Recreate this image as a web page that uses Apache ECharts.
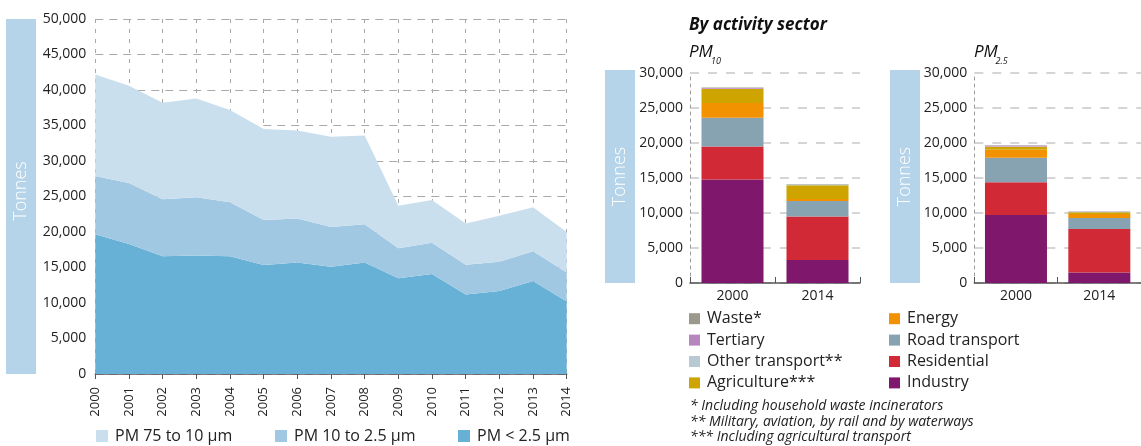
<!DOCTYPE html>
<html><head><meta charset="utf-8">
<script src="https://cdn.jsdelivr.net/npm/echarts@6/dist/echarts.min.js"></script>
<style>html,body{margin:0;padding:0;background:#fff}#c{width:1141px;height:446px}</style>
</head><body><div id="c"></div><script>
// ---- Left chart: PM emissions by size (tonnes) ----
const years = ['2000','2001','2002','2003','2004','2005','2006','2007','2008','2009','2010','2011','2012','2013','2014'];
const pmBelow25 = [19700,18300,16600,16700,16600,15350,15700,15100,15700,13500,14100,11200,11700,13100,10200];
const pm10to25  = [8200,8600,8000,8200,7600,6350,6200,5600,5400,4200,4400,4200,4100,4200,4100];
const pm75to10  = [14300,13700,13600,13900,13000,12800,12400,12700,12500,6000,6000,5800,6500,6200,5700];
const sizeNames = ['PM 75 to 10 µm','PM 10 to 2.5 µm','PM < 2.5 µm'];

// ---- Right charts: by activity sector ----
const barYears = ['2000','2014'];
const sectorNames = ['Industry','Residential','Road transport','Energy','Agriculture***','Other transport**','Tertiary','Waste*'];
const pm10Industry   = [14800, 3300];
const pm10Residential= [4700, 6200];
const pm10Road       = [4100, 2200];
const pm10Energy     = [2100, 300];
const pm10Agri       = [2000, 1950];
const pm10OtherTr    = [40, 150];
const pm10Tertiary   = [130, 20];
const pm10Waste      = [60, 10];
const pm25Industry   = [9700, 1500];
const pm25Residential= [4700, 6200];
const pm25Road       = [3500, 1600];
const pm25Energy     = [1150, 550];
const pm25Agri       = [400, 250];
const pm25OtherTr    = [50, 120];
const pm25Tertiary   = [130, 20];
const pm25Waste      = [40, 10];
const yTicksMax = {left: 50000, right: 30000};

const pm10Sets = [pm10Industry,pm10Residential,pm10Road,pm10Energy,pm10Agri,pm10OtherTr,pm10Tertiary,pm10Waste];
const pm25Sets = [pm25Industry,pm25Residential,pm25Road,pm25Energy,pm25Agri,pm25OtherTr,pm25Tertiary,pm25Waste];
const sectorColors = ['#7f176c','#d12a36','#87a2b0','#f39200','#cea400','#b8c9d4','#b886bf','#9c998c'];
const sizeColors = ['#cadfee','#a0c8e2','#68b1d6'];

const FONT = '"Open Sans", "DejaVu Sans", sans-serif';
const fmt = v => Number(v).toLocaleString('en-US');

const chart = echarts.init(document.getElementById('c'), null, {renderer:'canvas'});

const series = [];
// stacked areas (bottom first)
[[sizeNames[2], pmBelow25, sizeColors[2]],[sizeNames[1], pm10to25, sizeColors[1]],[sizeNames[0], pm75to10, sizeColors[0]]].forEach(([n,d,c])=>{
  series.push({name:n, type:'line', xAxisIndex:0, yAxisIndex:0, stack:'size', data:d, symbol:'none',
    lineStyle:{width:0}, areaStyle:{color:c, opacity:1}, itemStyle:{color:c}});
});
sectorNames.forEach((n,i)=>{
  series.push({name:n, type:'bar', xAxisIndex:1, yAxisIndex:1, stack:'pm10', data:pm10Sets[i], barWidth:62,
    itemStyle:{color:sectorColors[i]}});
});
sectorNames.forEach((n,i)=>{
  series.push({name:n, type:'bar', xAxisIndex:2, yAxisIndex:2, stack:'pm25', data:pm25Sets[i], barWidth:62,
    itemStyle:{color:sectorColors[i]}});
});

const rightY = (gi)=>({
  type:'value', gridIndex:gi, min:0, max:yTicksMax.right, interval:5000,
  axisLine:{show:true, lineStyle:{color:'#9a9a9a', type:[3,4], width:1}},
  axisTick:{show:false},
  axisLabel:{formatter:fmt, color:'#222', fontSize:14, fontFamily:FONT, margin:7},
  splitLine:{show:true, lineStyle:{color:'#c8c8c8', width:1.5, type:[9,9]}}
});
const rightX = (gi)=>({
  type:'category', gridIndex:gi, data:barYears,
  axisLine:{show:true, lineStyle:{color:'#555', width:1.5}},
  axisTick:{show:true, inside:true, length:6, lineStyle:{color:'#555'}},
  axisLabel:{color:'#222', fontSize:14, fontFamily:FONT, margin:6},
  splitLine:{show:false}
});

const legendText = {color:'#222', fontSize:16, fontFamily:FONT, lineHeight:16};
const lt = () => Object.assign({padding:[0,0,0,2]}, legendText);

const option = {
  animation:false,
  textStyle:{fontFamily:FONT},
  grid:[
    {left:95.3, top:19, width:471.4, height:355},
    {left:690, top:73, width:170, height:210},
    {left:974.3, top:73, width:172, height:210}
  ],
  xAxis:[
    {type:'category', gridIndex:0, data:years, boundaryGap:false,
      axisLine:{show:true, lineStyle:{color:'#555', width:1.5}},
      axisTick:{show:true, length:5, lineStyle:{color:'#555'}},
      axisLabel:{rotate:90, color:'#222', fontSize:13, fontFamily:FONT, margin:13, interval:0},
      splitLine:{show:true, lineStyle:{color:'#a8a8a8', width:1, type:[4,6]}}},
    rightX(1), rightX(2)
  ],
  yAxis:[
    {type:'value', gridIndex:0, min:0, max:yTicksMax.left, interval:5000,
      axisLine:{show:false}, axisTick:{show:false},
      axisLabel:{formatter:fmt, color:'#222', fontSize:14, fontFamily:FONT, margin:9},
      splitLine:{show:true, lineStyle:{color:'#a8a8a8', width:1, type:[8,6]}}},
    rightY(1), rightY(2)
  ],
  legend:[
    {data:[sizeNames[0]], left:96, top:428, padding:0, icon:'rect', itemWidth:12, itemHeight:12, textStyle:lt(), selectedMode:false},
    {data:[sizeNames[1]], left:275, top:428, padding:0, icon:'rect', itemWidth:12, itemHeight:12, textStyle:lt(), selectedMode:false},
    {data:[sizeNames[2]], left:458, top:428, padding:0, icon:'rect', itemWidth:12, itemHeight:12, textStyle:lt(), selectedMode:false},
    {data:['Waste*','Tertiary','Other transport**','Agriculture***'], orient:'vertical', left:689, top:310.7, padding:0, icon:'rect', itemWidth:11, itemHeight:11, itemGap:5.4, textStyle:lt(), selectedMode:false},
    {data:['Energy','Road transport','Residential','Industry'], orient:'vertical', left:889, top:310.7, padding:0, icon:'rect', itemWidth:11, itemHeight:11, itemGap:5.4, textStyle:lt(), selectedMode:false}
  ],
  graphic:[
    {type:'rect', shape:{x:6,y:19,width:30,height:355}, style:{fill:'#b5d4e9'}, silent:true},
    {type:'text', x:21, y:191, rotation:Math.PI/2, style:{text:'Tonnes', fill:'#fff', font:'300 18px '+FONT, align:'center', verticalAlign:'middle'}},
    {type:'rect', shape:{x:605,y:70,width:30,height:213}, style:{fill:'#b5d4e9'}, silent:true},
    {type:'text', x:620, y:176.5, rotation:Math.PI/2, style:{text:'Tonnes', fill:'#fff', font:'300 18px '+FONT, align:'center', verticalAlign:'middle'}},
    {type:'rect', shape:{x:890,y:70,width:30,height:213}, style:{fill:'#b5d4e9'}, silent:true},
    {type:'text', x:905, y:176.5, rotation:Math.PI/2, style:{text:'Tonnes', fill:'#fff', font:'300 18px '+FONT, align:'center', verticalAlign:'middle'}},
    {type:'text', x:689, y:25.5, style:{text:'By activity sector', fill:'#111', font:'italic bold 17px '+FONT, align:'left', verticalAlign:'middle'}},
    {type:'text', x:689, y:52.5, style:{text:'PM', fill:'#111', font:'italic 17px '+FONT, align:'left', verticalAlign:'middle'}},
    {type:'text', x:711, y:61.5, style:{text:'10', fill:'#111', font:'italic 9px '+FONT, align:'left', verticalAlign:'middle'}},
    {type:'text', x:974, y:52.5, style:{text:'PM', fill:'#111', font:'italic 17px '+FONT, align:'left', verticalAlign:'middle'}},
    {type:'text', x:995.5, y:61.5, style:{text:'2.5', fill:'#111', font:'italic 9px '+FONT, align:'left', verticalAlign:'middle'}},
    {type:'text', x:690, y:406.5, style:{text:'* Including household waste incinerators', fill:'#222', font:'italic 14px '+FONT, align:'left', verticalAlign:'middle'}},
    {type:'text', x:690, y:422, style:{text:'** Military, aviation, by rail and by waterways', fill:'#222', font:'italic 14px '+FONT, align:'left', verticalAlign:'middle'}},
    {type:'text', x:690, y:437.5, style:{text:'*** Including agricultural transport', fill:'#222', font:'italic 14px '+FONT, align:'left', verticalAlign:'middle'}}
  ],
  series: series
};
chart.setOption(option);
</script></body></html>
